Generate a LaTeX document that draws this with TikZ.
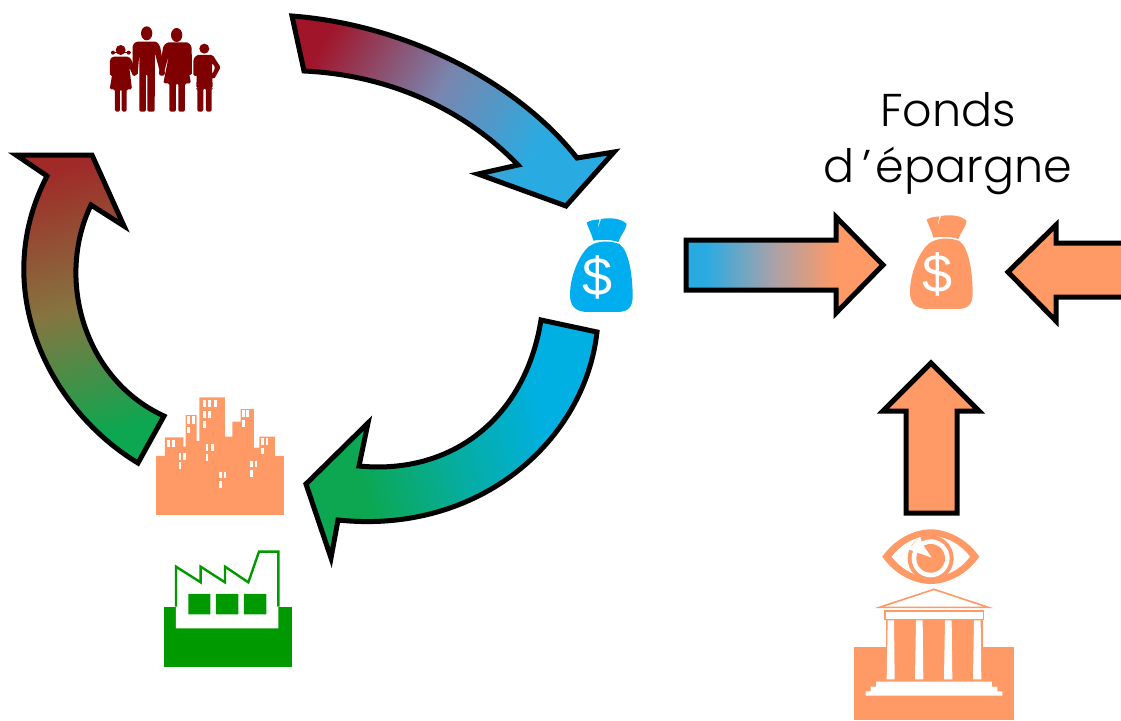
\documentclass[tikz,border=0pt]{standalone}
\usepackage{fontspec}
\newfontfamily\popfont[UprightFont={* Light}]{Poppins}
\newfontfamily\bagfont[Ligatures=TeX]{Liberation Sans}
\definecolor{oran}{HTML}{FF9966}
\definecolor{bleu}{HTML}{00AEEF}
\definecolor{sky}{HTML}{29ABE2}
\definecolor{dred}{HTML}{A0152A}
\definecolor{redC}{HTML}{A02A28}
\definecolor{maroon}{HTML}{7F0000}
\definecolor{fgreen}{HTML}{009900}
\definecolor{agreen}{HTML}{0CA750}
\definecolor{bluec}{HTML}{00B0E2}
\definecolor{midA}{HTML}{7A85AE}
\definecolor{midB}{HTML}{857540}
\definecolor{midC}{HTML}{A8A2A8}
\definecolor{midD}{HTML}{06ADA0}
\pgfdeclareverticalshading{gradA}{100bp}{color(0bp)=(sky);color(33bp)=(sky);color(54bp)=(midA);color(77bp)=(dred);color(100bp)=(dred)}
\pgfdeclareverticalshading{gradB}{100bp}{color(0bp)=(bluec);color(33bp)=(bluec);color(50bp)=(midD);color(68bp)=(agreen);color(100bp)=(agreen)}
\pgfdeclareverticalshading{gradC}{100bp}{color(0bp)=(agreen);color(27bp)=(agreen);color(50bp)=(midB);color(75bp)=(redC);color(100bp)=(redC)}
\pgfdeclareverticalshading{gradD}{100bp}{color(0bp)=(oran);color(37bp)=(oran);color(53bp)=(midC);color(70bp)=(sky);color(100bp)=(sky)}
\tikzset{
  blockarrow/.style={draw=black,line width=5pt,line join=miter,miter limit=6},
  fam/.style={fill=maroon,draw=none},
  lab/.style={font=\popfont\fontsize{46}{54}\selectfont,text=black,inner sep=0pt,anchor=center},
  dollar/.style={text=white,inner sep=0pt,font=\bagfont\fontsize{54}{54}\selectfont},
}
\newcommand{\moneybag}[1]{%
    \fill[#1] (130,132) .. controls (100,140) and (58,220) .. (60,290)
      .. controls (62,325) and (85,335) .. (110,336) -- (205,336)
      .. controls (235,335) and (248,320) .. (248,290)
      .. controls (248,220) and (235,150) .. (208,132)
      .. controls (180,122) and (155,122) .. (130,132) -- cycle;
    \fill[#1] (110,68) .. controls (120,60) and (135,60) .. (148,58)
      -- (142,90) -- (153,57) .. controls (180,52) and (215,55) .. (230,72)
      .. controls (228,90) and (212,105) .. (205,126)
      .. controls (180,118) and (155,118) .. (130,122)
      .. controls (125,100) and (115,85) .. (110,68) -- cycle;
}
\begin{document}
\begin{tikzpicture}[x=1pt,y=-1pt]
\useasboundingbox (0,0) rectangle (1121,720);

% curved arrows
\path[blockarrow,shade,shading=gradA,shading angle=60]
  (292,16) .. controls (410,25) and (520,85) .. (577,158)
  -- (614,152) -- (566,206) -- (478,174) -- (518,165)
  .. controls (465,110) and (390,75) .. (304,71) -- cycle;
\path[blockarrow,shade,shading=gradB,shading angle=105]
  (597,332) .. controls (585,440) and (480,535) .. (338,520)
  -- (331,558) -- (306,484) -- (368,423) -- (359,466)
  .. controls (450,475) and (525,420) .. (541,320) -- cycle;
\path[blockarrow,shade,shading=gradC,shading angle=15]
  (138,463) .. controls (50,410) and (-12,290) .. (47,176)
  -- (16,155) -- (92,155) -- (124,226) -- (91,205)
  .. controls (55,280) and (85,380) .. (164,416) -- cycle;

% straight arrows
\path[blockarrow,shade,shading=gradD,shading angle=90]
  (686,240) -- (836,240) -- (836,217) -- (883,265) -- (836,313) -- (836,290) -- (686,290) -- cycle;
\path[blockarrow,fill=oran]
  (1130,243) -- (1056,243) -- (1056,225) -- (1008,272) -- (1056,321) -- (1056,297) -- (1130,297);
\path[blockarrow,fill=oran]
  (906,513) -- (906,411) -- (883,411) -- (931,363) -- (979,411) -- (957,411) -- (957,513) -- cycle;

% text
\node[lab] (t1) at (948,110) {Fonds};
\node[lab] (t2) at (948,171) {d\hspace{8pt}’\hspace{4pt}épargne};

% bags
\begin{scope}[shift={(550,200)},x=0.3333pt,y=-0.3333pt]
  \moneybag{bleu}
\end{scope}
\begin{scope}[shift={(890,197)},x=0.3333pt,y=-0.3333pt]
  \moneybag{oran}
\end{scope}
\node[dollar] (d1) at (598,277) {\$};
\node[dollar] (d2) at (938,274) {\$};

% family
\begin{scope}[shift={(90,10)},x=0.3333pt,y=-0.3333pt,rounded corners=1.5pt]
  % girl
  \fill[fam] (92,120) circle[radius=15];
  \fill[fam] (69,128) circle[radius=6] (116,128) circle[radius=6];
  \draw[maroon,line width=0.8pt] (62,128) -- (122,128);
  \fill[fam] (60,198) -- (60,148) -- (68,140) -- (116,140) -- (125,150) -- (140,195) -- (130,200) -- (118,172) -- (126,238) -- (110,238) -- (110,305) -- (95,305) -- (95,238) -- (90,238) -- (90,305) -- (75,305) -- (75,238) -- (59,238) -- (70,172) -- (70,198) -- cycle;
  % man
  \fill[fam] (170,70) ellipse[x radius=17,y radius=21];
  \fill[fam] (128,195) -- (128,105) -- (138,95) -- (200,95) -- (210,108) -- (226,195) -- (213,198) -- (195,130) -- (194,305) -- (172,305) -- (172,192) -- (168,192) -- (168,305) -- (148,305) -- (148,130) -- (143,195) -- cycle;
  % woman
  \fill[fam] (260,75) ellipse[x radius=17,y radius=21];
  \fill[fam] (206,195) -- (220,108) -- (232,97) -- (295,97) -- (305,110) -- (306,195) -- (292,195) -- (286,130) -- (303,220) -- (285,220) -- (285,305) -- (265,305) -- (265,220) -- (258,220) -- (258,305) -- (238,305) -- (238,220) -- (220,220) -- (238,130) -- (219,198) -- cycle;
  % boy
  \fill[fam] (343,116) circle[radius=15];
  \fill[fam] (310,198) -- (310,148) -- (320,135) -- (368,135) -- (392,172) -- (372,208) -- (364,200) -- (376,172) -- (366,158) -- (368,235) -- (365,235) -- (365,305) -- (348,305) -- (348,235) -- (340,235) -- (340,305) -- (322,305) -- (322,235) -- (319,235) -- (321,165) -- (322,198) -- cycle;
\end{scope}

% city
\begin{scope}[shift={(140,385)},x=0.3333pt,y=-0.3333pt]
  \fill[oran] (48,390) -- (48,213) -- (75,213) -- (75,157) -- (130,157) -- (130,185) -- (137,185) -- (137,90) -- (170,90) -- (170,168) -- (178,168) -- (178,37) -- (255,37) -- (255,155) -- (277,155) -- (277,110) -- (302,110) -- (302,72) -- (342,72) -- (342,188) -- (358,188) -- (358,155) -- (405,155) -- (405,213) -- (432,213) -- (432,390) -- cycle;
  \foreach \x/\y/\w/\h in {81/164/9/22,96/164/9/22,116/204/8/20,129/204/8/20,116/231/8/20,
    141/94/9/22,157/94/9/22,141/125/8/20,188/46/9/21,205/46/9/21,222/46/9/21,188/78/9/21,205/78/9/21,188/108/9/21,
    197/177/8/20,213/177/8/20,197/208/8/20,306/76/8/21,318/76/8/21,306/105/8/20,
    364/160/8/20,377/160/8/20,364/188/8/20,331/227/8/20,344/227/8/20,331/256/8/20,
    238/260/8/20,251/260/8/20,238/288/8/20}
    \fill[white] (\x,\y) rectangle ++(\w,\h);
\end{scope}

% factory
\begin{scope}[shift={(140,385)},x=0.3333pt,y=-0.3333pt]
  \fill[fgreen] (71,665) rectangle (455,845);
  \fill[white] (108,730) -- (108,545) -- (182,592) -- (182,545) -- (255,592) -- (255,545) -- (325,592) -- (357,500) -- (415,500) -- (415,730) -- cycle;
  \draw[fgreen,line width=2.4pt,line join=miter] (108,665) -- (108,545) -- (182,592) -- (182,545) -- (255,592) -- (255,545) -- (325,592) -- (357,500) -- (415,500) -- (415,665);
  \fill[fgreen] (145,627) rectangle (211,688) (228,627) rectangle (295,688) (312,627) rectangle (379,688);
\end{scope}

% eye and bank
\begin{scope}[shift={(840,510)},x=0.3333pt,y=-0.3333pt]
  \fill[oran] (127,140) .. controls (165,85) and (225,58) .. (272,58) .. controls (320,58) and (380,85) .. (418,140) .. controls (380,195) and (320,222) .. (272,222) .. controls (225,222) and (165,195) .. (127,140) -- cycle;
  \fill[white] (155,140) .. controls (190,95) and (235,78) .. (272,78) .. controls (310,78) and (355,95) .. (390,140) .. controls (355,185) and (310,202) .. (272,202) .. controls (235,202) and (190,185) .. (155,140) -- cycle;
  \fill[oran] (272,145) circle[radius=69];
  \fill[white] (272,145) circle[radius=57];
  \fill[oran] (272,145) circle[radius=43];
  \fill[white] (240,80) -- (205,118) -- (275,143) -- (248,103) -- cycle;
  \fill[oran] (42,412) rectangle (522,630);
  \fill[white] (132,405) rectangle (432,412);
  \draw[oran,line width=1.6pt,line join=miter] (118,292) -- (282,238) -- (445,292) -- cycle;
  \fill[oran] (132,300) rectangle (432,330);
  \fill[white] (137,306) rectangle (428,326);
  \fill[oran] (137,330) rectangle (428,515);
  \draw[white,line width=1pt] (133,412) -- (133,330) (431,412) -- (431,330);
  \foreach \a/\b in {143/162,228/248,315/335,402/422}
    \fill[white] (\a,331) -- (\b,331) -- (\b+2,508) -- (\a-3,508) -- cycle;
  \fill[white] (108,515) rectangle (456,530) (92,530) rectangle (472,544) (77,544) rectangle (487,557);
\end{scope}
\end{tikzpicture}
\end{document}
